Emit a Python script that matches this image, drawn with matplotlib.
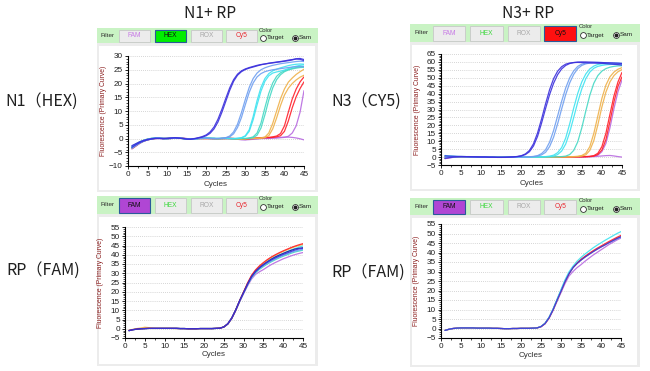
import matplotlib
matplotlib.use("Agg")
import matplotlib.pyplot as plt
from matplotlib.patches import Rectangle
from matplotlib.lines import Line2D
from matplotlib.ticker import MultipleLocator

cycles = list(range(1, 46))

# ---- N1 (HEX) amplification curves, one value per cycle ----
n1_blue_a = [-3.2, -2.3, -1.5, -0.9, -0.5, -0.2, 0.0, 0.0, -0.1, 0.0,
             0.1, 0.2, 0.1, 0.0, -0.2, -0.2, 0.0, 0.3, 0.7, 1.3,
             2.4, 4.2, 7.0, 10.6, 14.6, 18.4, 21.4, 23.4, 24.6, 25.3,
             25.8, 26.2, 26.6, 26.9, 27.1, 27.3, 27.5, 27.7, 27.9, 28.1,
             28.3, 28.6, 28.9, 28.8, 28.3]
n1_blue_b = [-2.6, -1.9, -1.2, -0.7, -0.3, -0.1, 0.1, 0.1, 0.0, 0.1,
             0.2, 0.3, 0.2, 0.0, -0.2, -0.3, -0.1, 0.2, 0.5, 1.0,
             1.9, 3.5, 6.0, 9.5, 13.5, 17.5, 20.8, 23.0, 24.3, 25.1,
             25.6, 26.0, 26.4, 26.8, 27.1, 27.4, 27.6, 27.8, 28.0, 28.2,
             28.5, 28.7, 29.0, 29.1, 28.7]
n1_lblue_a = [-3.0, -2.1, -1.3, -0.7, -0.3, 0.0, 0.2, 0.2, 0.1, 0.0,
              0.1, 0.2, 0.1, 0.0, -0.2, -0.3, -0.2, 0.0, 0.1, 0.1,
              0.0, 0.0, 0.0, 0.1, 0.3, 0.9, 2.4, 5.2, 9.4, 14.2,
              18.6, 21.8, 23.8, 25.0, 25.7, 26.2, 26.6, 26.9, 27.2, 27.4,
              27.6, 27.8, 28.0, 28.1, 28.0]
n1_lblue_b = [-3.6, -2.6, -1.7, -1.0, -0.5, -0.2, 0.0, 0.1, 0.0, -0.1,
              0.0, 0.2, 0.2, 0.1, -0.1, -0.3, -0.2, 0.0, 0.1, 0.1,
              0.0, -0.1, 0.0, 0.0, 0.2, 0.6, 1.7, 4.0, 7.6, 12.3,
              16.8, 20.2, 22.4, 23.6, 24.3, 24.7, 25.0, 25.2, 25.4, 25.6,
              25.8, 26.0, 26.1, 26.2, 26.1]
n1_cyan_a = [-2.8, -2.0, -1.2, -0.6, -0.2, 0.1, 0.2, 0.1, 0.0, 0.0,
             0.1, 0.2, 0.1, 0.0, -0.1, -0.2, -0.1, 0.0, 0.1, 0.2,
             0.1, 0.0, 0.0, 0.1, 0.1, 0.0, 0.0, 0.1, 0.3, 1.0,
             3.2, 8.0, 13.8, 18.6, 21.8, 23.6, 24.6, 25.2, 25.7, 26.1,
             26.5, 26.8, 27.0, 27.1, 27.0]
n1_cyan_b = [-3.3, -2.4, -1.5, -0.9, -0.4, -0.1, 0.1, 0.1, 0.0, -0.1,
             0.0, 0.1, 0.1, 0.0, -0.2, -0.3, -0.2, 0.0, 0.0, 0.1,
             0.1, 0.1, 0.0, 0.0, 0.0, 0.0, 0.0, 0.0, 0.2, 0.8,
             2.6, 6.8, 12.2, 17.2, 20.8, 22.8, 23.8, 24.2, 24.5, 24.9,
             25.4, 25.9, 26.3, 26.6, 26.8]
n1_teal_a = [-3.0, -2.1, -1.3, -0.7, -0.3, 0.0, 0.1, 0.1, 0.0, 0.0,
             0.1, 0.2, 0.1, 0.0, -0.1, -0.2, -0.1, 0.0, 0.1, 0.1,
             0.1, 0.0, 0.0, 0.0, 0.1, 0.0, -0.1, 0.0, 0.0, 0.0,
             0.2, 0.6, 2.0, 5.6, 11.2, 16.4, 20.2, 22.6, 23.9, 24.6,
             25.1, 25.5, 25.8, 26.0, 26.2]
n1_teal_b = [-3.4, -2.5, -1.6, -0.9, -0.4, -0.1, 0.1, 0.1, 0.0, 0.0,
             0.1, 0.1, 0.1, 0.0, -0.2, -0.3, -0.2, 0.0, 0.0, 0.1,
             0.0, 0.0, -0.1, 0.0, 0.0, 0.0, -0.1, -0.1, 0.0, 0.0,
             0.1, 0.3, 1.2, 3.8, 8.6, 14.0, 18.4, 21.4, 23.2, 24.3,
             24.9, 25.3, 25.6, 25.8, 25.9]
n1_orange_a = [-2.9, -2.0, -1.2, -0.6, -0.2, 0.0, 0.1, 0.1, 0.0, 0.0,
               0.1, 0.2, 0.2, 0.0, -0.1, -0.2, -0.1, 0.0, 0.0, 0.0,
               0.0, -0.1, -0.1, 0.0, 0.0, 0.0, -0.1, -0.2, -0.2, -0.1,
               0.0, 0.0, 0.1, 0.2, 0.5, 2.0, 5.5, 10.0, 14.5, 18.0,
               20.5, 22.0, 23.3, 24.3, 25.2]
n1_orange_b = [-3.5, -2.5, -1.6, -0.9, -0.4, -0.1, 0.0, 0.1, 0.0, 0.0,
               0.1, 0.2, 0.1, 0.0, -0.2, -0.2, -0.1, 0.0, 0.0, 0.0,
               0.0, 0.0, -0.1, -0.1, 0.0, 0.0, -0.1, -0.2, -0.3, -0.2,
               0.0, 0.0, 0.0, 0.1, 0.3, 1.0, 3.5, 7.5, 12.0, 15.8,
               18.3, 20.0, 21.3, 22.3, 23.0]
n1_red_a = [-3.1, -2.2, -1.4, -0.8, -0.3, 0.0, 0.1, 0.1, 0.0, 0.0,
            0.1, 0.2, 0.1, 0.0, -0.1, -0.2, -0.1, 0.0, 0.0, 0.0,
            0.0, 0.0, -0.1, 0.0, 0.0, 0.1, 0.0, -0.1, -0.2, -0.2,
            0.0, 0.1, 0.2, 0.3, 0.4, 0.4, 0.6, 0.9, 1.8, 4.6,
            9.6, 14.4, 18.0, 20.6, 22.4]
n1_red_b = [-3.7, -2.7, -1.7, -1.0, -0.5, -0.2, 0.0, 0.1, 0.0, -0.1,
            0.0, 0.2, 0.2, 0.1, -0.1, -0.2, -0.2, 0.0, 0.0, 0.0,
            0.0, -0.1, -0.1, 0.0, 0.0, 0.0, 0.0, -0.2, -0.3, -0.3,
            -0.1, 0.0, 0.1, 0.2, 0.3, 0.3, 0.4, 0.6, 1.0, 2.6,
            6.4, 11.2, 15.2, 18.2, 20.6]
n1_violet = [-3.3, -2.4, -1.5, -0.8, -0.4, -0.1, 0.1, 0.1, 0.0, 0.0,
             0.1, 0.2, 0.2, 0.0, -0.1, -0.3, -0.2, 0.0, 0.0, 0.0,
             0.0, 0.0, -0.1, -0.1, 0.0, 0.0, -0.2, -0.3, -0.4, -0.4,
             -0.2, -0.1, 0.0, 0.0, 0.0, 0.0, 0.1, 0.2, 0.3, 0.4,
             0.8, 2.0, 4.6, 9.6, 17.4]
n1_ntc = [-3.8, -2.8, -1.8, -1.0, -0.5, -0.2, 0.0, 0.0, -0.1, -0.1,
          0.0, 0.2, 0.3, 0.2, 0.0, -0.2, -0.2, 0.0, 0.1, 0.1,
          0.0, -0.1, -0.1, 0.0, 0.0, -0.1, -0.2, -0.3, -0.4, -0.5,
          -0.4, -0.3, -0.2, 0.0, 0.1, 0.2, 0.3, 0.3, 0.4, 0.5,
          0.5, 0.4, 0.2, -0.1, -0.5]

# ---- N3 (CY5) amplification curves ----
n3_blue_a = [0.8, 0.6, 0.5, 0.4, 0.4, 0.3, 0.3, 0.2, 0.2, 0.1,
             0.1, 0.0, 0.0, -0.1, -0.1, -0.1, 0.0, 0.1, 0.4, 0.9,
             2.0, 4.2, 8.4, 15.2, 24.0, 33.6, 42.5, 49.5, 54.2, 57.0,
             58.6, 59.3, 59.6, 59.7, 59.6, 59.5, 59.4, 59.3, 59.2, 59.1,
             58.9, 58.7, 58.5, 58.3, 58.0]
n3_blue_b = [-0.8, -0.4, -0.1, 0.1, 0.2, 0.2, 0.1, 0.1, 0.0, 0.0,
             0.0, -0.1, -0.1, -0.2, -0.2, -0.1, 0.0, 0.1, 0.3, 0.7,
             1.6, 3.4, 7.0, 13.0, 21.4, 30.6, 39.4, 46.6, 52.0, 55.6,
             57.8, 59.0, 59.6, 59.9, 60.0, 60.0, 59.9, 59.8, 59.7, 59.6,
             59.5, 59.4, 59.3, 59.2, 59.0]
n3_lblue_a = [0.5, 0.4, 0.4, 0.3, 0.3, 0.3, 0.2, 0.2, 0.1, 0.1,
              0.0, 0.0, -0.1, -0.1, -0.1, -0.1, -0.1, 0.0, 0.0, 0.0,
              0.1, 0.2, 0.4, 0.9, 2.2, 4.6, 9.4, 16.8, 26.0, 35.2,
              43.6, 50.0, 54.4, 57.2, 58.6, 59.3, 59.6, 59.7, 59.7, 59.6,
              59.5, 59.4, 59.3, 59.2, 59.0]
n3_lblue_b = [-0.5, -0.2, 0.0, 0.1, 0.2, 0.2, 0.2, 0.1, 0.1, 0.0,
              0.0, -0.1, -0.1, -0.2, -0.2, -0.1, -0.1, 0.0, 0.0, 0.0,
              0.1, 0.1, 0.3, 0.6, 1.4, 3.0, 6.6, 12.6, 21.0, 30.4,
              39.4, 46.8, 52.2, 55.8, 57.8, 58.8, 59.3, 59.5, 59.5, 59.4,
              59.3, 59.1, 59.0, 58.8, 58.6]
n3_cyan_a = [1.0, 0.7, 0.5, 0.4, 0.3, 0.3, 0.2, 0.2, 0.1, 0.1,
             0.0, 0.0, -0.1, -0.1, -0.1, -0.1, 0.0, 0.0, 0.0, 0.0,
             0.0, 0.1, 0.1, 0.1, 0.2, 0.3, 0.6, 1.2, 2.8, 6.0,
             12.0, 21.0, 31.0, 40.2, 47.4, 52.4, 55.6, 57.4, 58.4, 58.8,
             59.0, 59.1, 59.1, 59.1, 59.0]
n3_cyan_b = [-0.3, 0.0, 0.2, 0.3, 0.3, 0.3, 0.2, 0.2, 0.1, 0.1,
             0.0, 0.0, -0.1, -0.1, -0.1, -0.1, 0.0, 0.0, 0.0, 0.0,
             0.0, 0.0, 0.1, 0.1, 0.1, 0.2, 0.3, 0.6, 1.6, 3.8,
             8.2, 15.6, 25.0, 34.6, 43.0, 49.4, 53.6, 56.0, 57.2, 57.8,
             58.2, 58.4, 58.5, 58.6, 58.6]
n3_teal = [0.6, 0.5, 0.4, 0.3, 0.3, 0.3, 0.2, 0.2, 0.1, 0.1,
           0.0, 0.0, -0.1, -0.1, -0.1, -0.1, -0.1, 0.0, 0.0, 0.0,
           0.0, 0.0, 0.0, 0.0, 0.0, 0.1, 0.1, 0.1, 0.2, 0.3,
           0.6, 1.6, 4.2, 9.6, 18.4, 29.0, 39.0, 46.6, 51.4, 54.2,
           55.8, 56.7, 57.2, 57.5, 57.6]
n3_orange_a = [0.2, 0.2, 0.2, 0.2, 0.2, 0.2, 0.1, 0.1, 0.1, 0.0,
               0.0, 0.0, -0.1, -0.1, -0.1, -0.1, -0.1, 0.0, 0.0, 0.0,
               0.0, 0.0, 0.0, 0.0, 0.0, 0.0, 0.0, 0.0, 0.1, 0.1,
               0.1, 0.2, 0.3, 0.5, 1.0, 2.4, 6.6, 15.0, 26.0, 37.0,
               45.4, 50.6, 53.6, 55.4, 56.4]
n3_orange_b = [-0.4, -0.1, 0.1, 0.2, 0.2, 0.2, 0.1, 0.1, 0.1, 0.0,
               0.0, 0.0, -0.1, -0.1, -0.1, -0.1, -0.1, 0.0, 0.0, 0.0,
               0.0, 0.0, 0.0, 0.0, 0.0, 0.0, 0.0, 0.0, 0.0, 0.1,
               0.1, 0.1, 0.2, 0.3, 0.6, 1.4, 4.2, 10.4, 20.4, 31.6,
               41.0, 47.4, 51.4, 53.8, 55.2]
n3_red_a = [0.3, 0.3, 0.2, 0.2, 0.2, 0.2, 0.1, 0.1, 0.1, 0.0,
            0.0, 0.0, -0.1, -0.1, -0.1, -0.1, -0.1, 0.0, 0.0, 0.0,
            0.0, 0.0, 0.0, 0.0, 0.0, 0.0, 0.0, 0.0, 0.0, 0.0,
            0.1, 0.1, 0.1, 0.2, 0.2, 0.3, 0.5, 0.9, 2.4, 6.6,
            15.0, 27.0, 38.6, 47.4, 53.4]
n3_red_b = [-0.6, -0.2, 0.0, 0.1, 0.2, 0.2, 0.1, 0.1, 0.1, 0.0,
            0.0, 0.0, -0.1, -0.1, -0.1, -0.1, -0.1, 0.0, 0.0, 0.0,
            0.0, 0.0, 0.0, 0.0, 0.0, 0.0, 0.0, 0.0, 0.0, 0.0,
            0.0, 0.1, 0.1, 0.1, 0.2, 0.2, 0.3, 0.6, 1.6, 4.4,
            11.0, 22.4, 34.8, 44.6, 50.6]
n3_violet = [-0.9, -0.4, -0.1, 0.1, 0.2, 0.2, 0.1, 0.1, 0.1, 0.0,
             0.0, 0.0, -0.1, -0.1, -0.1, -0.1, -0.1, 0.0, 0.0, 0.0,
             0.0, 0.0, 0.0, 0.0, 0.0, 0.0, 0.0, 0.0, 0.0, 0.0,
             0.0, 0.0, 0.1, 0.1, 0.1, 0.2, 0.3, 0.5, 1.2, 3.4,
             8.6, 18.4, 30.6, 41.2, 48.6]
n3_ntc = [-1.0, -0.5, -0.2, 0.0, 0.1, 0.1, 0.1, 0.0, 0.0, 0.0,
          0.0, -0.1, -0.1, -0.1, -0.2, -0.2, -0.1, -0.1, 0.0, 0.0,
          0.0, 0.0, 0.0, 0.0, 0.0, 0.0, 0.0, 0.0, 0.0, 0.0,
          0.1, 0.1, 0.1, 0.1, 0.1, 0.2, 0.2, 0.3, 0.5, 0.7,
          0.9, 1.0, 0.7, 0.3, 0.0]

# ---- RP (FAM) curves, N1 plate ----
rp1_base = [-1.0, -0.5, -0.2, 0.0, 0.1, 0.2, 0.2, 0.2, 0.2, 0.2,
            0.2, 0.2, 0.2, 0.1, 0.1, 0.0, 0.0, 0.0, 0.1, 0.1,
            0.1, 0.1, 0.2, 0.3]
rp1_red = rp1_base + [1.0, 2.7, 5.8, 10.2, 15.3, 20.0, 24.8, 28.9, 31.8, 34.0,
                      35.8, 37.4, 38.8, 40.0, 41.1, 42.1, 43.0, 43.9, 44.7, 45.4, 46.0]
rp1_orange = [-0.8, -0.3, 0.1, 0.4, 0.8, 0.6, 0.3, 0.2, 0.2, 0.2,
              0.2, 0.2, 0.1, 0.1, 0.1, 0.0, 0.0, 0.0, 0.1, 0.1,
              0.1, 0.1, 0.2, 0.3] + [1.0, 2.6, 5.7, 10.1, 15.2, 19.9, 24.6, 28.7, 31.6, 33.8,
                                     35.5, 37.1, 38.5, 39.7, 40.8, 41.8, 42.7, 43.6, 44.4, 45.0, 45.6]
rp1_cyan = rp1_base + [1.0, 2.7, 5.9, 10.3, 15.3, 19.8, 24.3, 28.3, 31.2, 33.3,
                       35.0, 36.5, 37.8, 38.9, 39.9, 40.8, 41.7, 42.6, 43.4, 44.1, 44.8]
rp1_lblue = rp1_base + [1.0, 2.6, 5.7, 10.0, 15.0, 19.5, 24.0, 27.9, 30.6, 32.6,
                        34.1, 35.5, 36.7, 37.8, 38.8, 39.7, 40.5, 41.3, 42.0, 42.5, 43.0]
rp1_teal = rp1_base + [1.0, 2.6, 5.7, 10.0, 14.9, 19.4, 23.8, 27.6, 30.2, 32.1,
                       33.6, 35.0, 36.2, 37.3, 38.3, 39.2, 40.0, 40.8, 41.5, 42.0, 42.5]
rp1_violet = rp1_base + [0.9, 2.5, 5.5, 9.7, 14.6, 19.0, 23.2, 26.9, 29.4, 30.8,
                         32.0, 33.4, 34.7, 35.8, 36.8, 37.8, 38.6, 39.4, 40.1, 40.7, 41.2]
rp1_navy = rp1_base + [1.0, 2.7, 5.8, 10.2, 15.2, 19.7, 24.2, 28.2, 31.0, 33.0,
                       34.7, 36.2, 37.6, 38.8, 39.8, 40.7, 41.6, 42.4, 43.1, 43.5, 43.8]
rp1_blue = rp1_base + [1.0, 2.7, 5.8, 10.2, 15.2, 19.6, 24.2, 28.2, 31.0, 33.0,
                       34.6, 36.0, 37.2, 38.3, 39.3, 40.2, 41.0, 41.8, 42.6, 43.2, 43.5]

# ---- RP (FAM) curves, N3 plate ----
rp3_base = [-1.0, -0.4, 0.0, 0.2, 0.3, 0.3, 0.3, 0.3, 0.2, 0.2,
            0.2, 0.2, 0.1, 0.1, 0.0, -0.1, -0.1, 0.0, 0.0, 0.1,
            0.1, 0.1, 0.2, 0.3]
rp3_cyan = rp3_base + [1.1, 2.8, 5.9, 10.2, 15.4, 20.5, 25.6, 29.8, 32.8, 35.4,
                       37.4, 39.2, 40.8, 42.4, 43.8, 45.1, 46.4, 47.6, 48.8, 50.0, 51.0]
rp3_red = rp3_base + [1.0, 2.6, 5.6, 9.9, 15.0, 19.9, 24.9, 29.0, 32.3, 34.6,
                      36.4, 38.0, 39.5, 40.9, 42.2, 43.4, 44.6, 45.8, 46.9, 48.0, 49.0]
rp3_orange = rp3_base + [1.0, 2.6, 5.6, 9.8, 14.8, 19.7, 24.7, 28.9, 32.1, 34.3,
                         36.1, 37.7, 39.1, 40.5, 41.8, 43.0, 44.2, 45.3, 46.5, 47.6, 48.6]
rp3_lblue = rp3_base + [1.0, 2.6, 5.6, 9.8, 14.8, 19.6, 24.6, 28.8, 32.0, 34.2,
                        36.0, 37.6, 39.0, 40.4, 41.7, 42.9, 44.0, 45.1, 46.1, 47.1, 48.0]
rp3_violet = rp3_base + [0.9, 2.4, 5.3, 9.4, 14.2, 18.9, 23.6, 27.6, 30.0, 32.0,
                         33.6, 35.4, 37.0, 38.6, 40.0, 41.4, 42.8, 44.2, 45.4, 46.6, 47.6]
rp3_blue = rp3_base + [1.0, 2.6, 5.6, 9.8, 14.8, 19.6, 24.6, 28.8, 32.0, 34.2,
                       36.0, 37.6, 39.0, 40.4, 41.7, 42.9, 44.0, 45.2, 46.3, 47.4, 48.3]

BLUE = "#3b30dc"
LBLUE = "#6f9ff0"
CYAN = "#3fe3f0"
TEAL = "#45d8c4"
ORANGE = "#efb14a"
RED = "#ff1f2a"
VIOLET = "#b86ae0"
NAVY = "#202090"

n1_curves = [(n1_ntc, VIOLET), (n1_violet, VIOLET), (n1_red_b, RED), (n1_red_a, RED),
             (n1_orange_b, ORANGE), (n1_orange_a, ORANGE), (n1_teal_b, TEAL), (n1_teal_a, TEAL),
             (n1_cyan_b, CYAN), (n1_cyan_a, CYAN), (n1_lblue_b, LBLUE), (n1_lblue_a, LBLUE),
             (n1_blue_b, BLUE), (n1_blue_a, BLUE)]
n3_curves = [(n3_ntc, VIOLET), (n3_violet, VIOLET), (n3_red_b, RED), (n3_red_a, RED),
             (n3_orange_b, ORANGE), (n3_orange_a, ORANGE), (n3_teal, TEAL),
             (n3_cyan_b, CYAN), (n3_cyan_a, CYAN), (n3_lblue_b, LBLUE), (n3_lblue_a, LBLUE),
             (n3_blue_b, BLUE), (n3_blue_a, BLUE)]
rp1_curves = [(rp1_violet, VIOLET), (rp1_teal, TEAL), (rp1_lblue, LBLUE), (rp1_cyan, CYAN),
              (rp1_orange, ORANGE), (rp1_red, RED), (rp1_navy, NAVY), (rp1_blue, BLUE)]
rp3_curves = [(rp3_violet, VIOLET), (rp3_lblue, LBLUE), (rp3_orange, ORANGE), (rp3_red, RED),
              (rp3_cyan, CYAN), (rp3_blue, BLUE)]

W, H = 650, 371
fig = plt.figure(figsize=(6.5, 3.71), dpi=100)
fig.patch.set_facecolor("white")


def rect(x0, y0, x1, y1, **kw):
    r = Rectangle((x0 / W, 1 - y1 / H), (x1 - x0) / W, (y1 - y0) / H,
                  transform=fig.transFigure, zorder=-5, **kw)
    fig.patches.append(r)


def ftext(x, y, s, **kw):
    fig.text(x / W, 1 - y / H, s, **kw)


def radio(x, y, on):
    fig.add_artist(Line2D([x / W], [1 - y / H], marker="o", ms=4.2, mfc="white",
                          mec="#303030", mew=0.6, transform=fig.transFigure))
    if on:
        fig.add_artist(Line2D([x / W], [1 - y / H], marker="o", ms=1.8, mfc="#202020",
                              mec="#202020", transform=fig.transFigure))


def screenshot(x0, x1, bar_y0, bar_y1, body_y1, active, scale):
    # window frame and plot background
    rect(x0, bar_y1, x1, body_y1, facecolor="#ececec", edgecolor="none")
    rect(x0 + 2, bar_y1 + 3, x1 - 3, body_y1 - 2, facecolor="white", edgecolor="none")
    # filter bar
    rect(x0, bar_y0, x1, bar_y1, facecolor="#c9f3c4", edgecolor="none")
    cy = (bar_y0 + bar_y1) / 2
    ftext(x0 + 4 * scale, cy, "Filter", fontsize=4.6, color="#303030", va="center",
          family="Liberation Sans")
    names = ["FAM", "HEX", "ROX", "Cy5"]
    cols = ["#c77ae6", "#3ad83a", "#a8a8a8", "#e8262e"]
    fills = {"FAM": "#b046d4", "HEX": "#00ee00", "Cy5": "#ff1010"}
    starts = [22, 58, 94, 129]
    for nm, c, s in zip(names, cols, starts):
        bx0 = x0 + s * scale
        bx1 = bx0 + 31 * scale
        if nm == active:
            rect(bx0, bar_y0 + 2, bx1, bar_y1 - 1.5, facecolor=fills[nm],
                 edgecolor="#2a5a9a", linewidth=0.8)
            tc = "#101010"
        else:
            rect(bx0, bar_y0 + 2, bx1, bar_y1 - 1.5, facecolor="#ececec",
                 edgecolor="#c8c8c8", linewidth=0.6)
            tc = c
        ftext((bx0 + bx1) / 2, cy + 0.3, nm, fontsize=4.8, color=tc, ha="center",
              va="center", family="Liberation Sans")
    ftext(x0 + 162 * scale, bar_y0 + 3, "Color", fontsize=4.3, color="#303030",
          va="center", family="Liberation Sans")
    radio(x0 + 166 * scale, cy + 2, False)
    ftext(x0 + 170 * scale, cy + 2, "Target", fontsize=4.6, color="#202020",
          va="center", family="Liberation Sans")
    radio(x0 + 198 * scale, cy + 2, True)
    ftext(x0 + 202 * scale, cy + 2, "Sam", fontsize=4.6, color="#202020",
          va="center", family="Liberation Sans", clip_on=True)


def panel(l, t, r, b, curves, ymin, ymax, ylab_dx, xlab_dy):
    ax = fig.add_axes([l / W, 1 - b / H, (r - l) / W, (b - t) / H])
    for vals, c in curves:
        ax.plot(cycles, vals, color=c, lw=0.9, alpha=0.9, solid_capstyle="round")
    ax.set_xlim(0, 45)
    ax.set_ylim(ymin, ymax)
    ax.xaxis.set_major_locator(MultipleLocator(5))
    ax.xaxis.set_minor_locator(MultipleLocator(2.5))
    ax.yaxis.set_major_locator(MultipleLocator(5))
    ax.yaxis.set_minor_locator(MultipleLocator(1))
    ax.grid(axis="y", which="major", color="#c8c8c8", linestyle=(0, (1, 1.5)), lw=0.6)
    for s in ["top", "right"]:
        ax.spines[s].set_visible(False)
    for s in ["left", "bottom"]:
        ax.spines[s].set_linewidth(0.8)
    ax.tick_params(which="major", length=2.5, width=0.7, labelsize=5.9, pad=1.2,
                   colors="#202020")
    ax.tick_params(which="minor", length=1.5, width=0.5)
    for lab in ax.get_xticklabels() + ax.get_yticklabels():
        lab.set_family("Liberation Sans")
    ax.set_ylabel("Fluorescence (Primary Curve)", fontsize=4.9, color="#8b1e1e",
                  family="Liberation Sans")
    ax.yaxis.set_label_coords(-ylab_dx / (r - l), 0.5)
    ax.set_xlabel("Cycles", fontsize=5.8, color="#303030", family="Liberation Sans")
    ax.xaxis.set_label_coords(0.5, -xlab_dy / (b - t))
    ax.set_facecolor("white")
    return ax


screenshot(97, 318, 28, 43, 192, "HEX", 1.0)
screenshot(410, 640, 24, 42, 191, "Cy5", 1.04)
screenshot(97, 318, 196, 214, 366, "FAM", 1.0)
screenshot(410, 640, 198, 215, 367, "FAM", 1.04)

panel(128, 56, 304, 166, n1_curves, -10, 30, 21, 15)
panel(441, 54, 622, 165, n3_curves, -5, 65, 20, 15)
panel(125, 227, 303, 338, rp1_curves, -5, 55, 21, 13)
panel(441, 224, 621, 338, rp3_curves, -5, 55, 21, 14)

cjk = ["Noto Sans CJK KR", "DejaVu Sans"]
ftext(210, 13, "N1+ RP", fontsize=11.2, ha="center", va="center", family=cjk, color="#202020")
ftext(528, 13, "N3+ RP", fontsize=11.2, ha="center", va="center", family=cjk, color="#202020")
ftext(5, 101, "N1（HEX)", fontsize=11.6, va="center", family=cjk, color="#202020")
ftext(331, 101, "N3（CY5)", fontsize=11.6, va="center", family=cjk, color="#202020")
ftext(6, 270, "RP（FAM)", fontsize=11.6, va="center", family=cjk, color="#202020")
ftext(331, 272, "RP（FAM)", fontsize=11.6, va="center", family=cjk, color="#202020")

fig.savefig("out.png", dpi=100)
